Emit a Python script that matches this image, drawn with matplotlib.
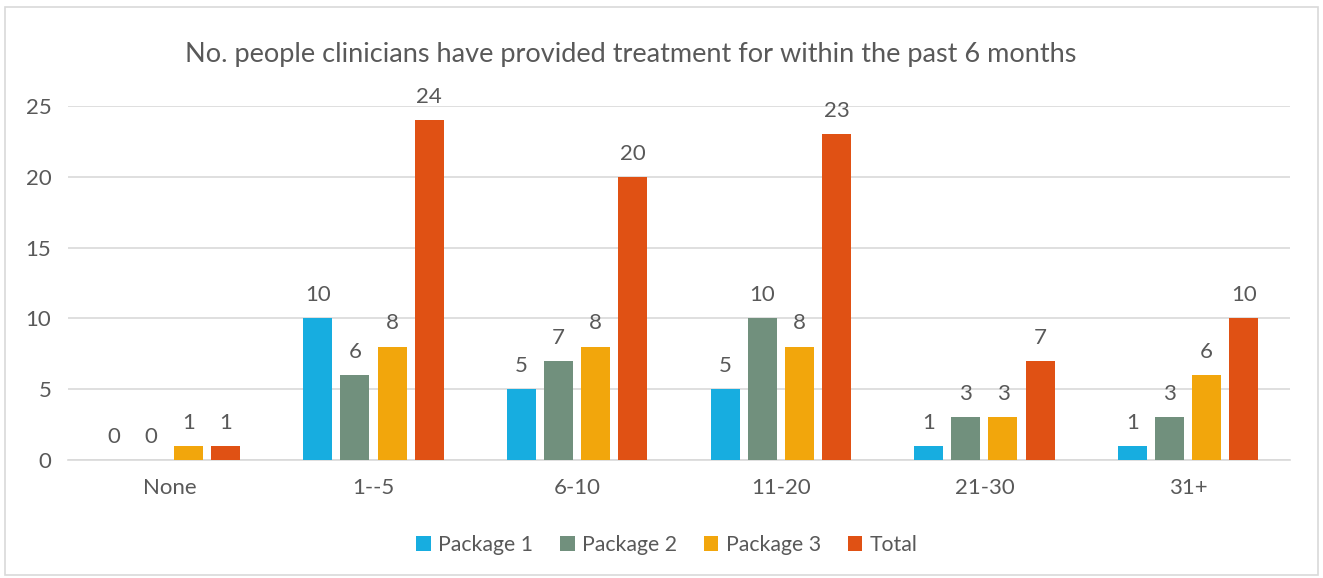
import matplotlib
matplotlib.use("Agg")
import matplotlib.pyplot as plt
from matplotlib.patches import Rectangle
import numpy as np

categories = ["None", "1--5", "6-10", "11-20", "21-30", "31+"]
package_1 = [0, 10, 5, 5, 1, 1]
package_2 = [0, 6, 7, 10, 3, 3]
package_3 = [1, 8, 8, 8, 3, 6]
total = [1, 24, 20, 23, 7, 10]
series_names = ["Package 1", "Package 2", "Package 3", "Total"]
y_ticks = [0, 5, 10, 15, 20, 25]

colors = ["#17ADE0", "#71907D", "#F2A60C", "#E05114"]
text_color = "#595959"
grid_color = "#D9D9D9"

plt.rcParams["font.family"] = ["Lato", "DejaVu Sans"]

fig = plt.figure(figsize=(13.23, 5.78), dpi=100)
ax = fig.add_axes([0.0514, 0.2042, 0.9236, 0.6125])

x = np.arange(len(categories))
width = 0.1425
step = 0.182
series = [package_1, package_2, package_3, total]
offsets = (np.arange(4) - 1.5) * step

for vals, off, col, name in zip(series, offsets, colors, series_names):
    bars = ax.bar(x + off, vals, width, color=col, label=name, zorder=3)
    for b, v in zip(bars, vals):
        ax.annotate(str(v), (b.get_x() + b.get_width() / 2, v),
                    xytext=(0, 9.5), textcoords="offset points",
                    ha="center", va="bottom", fontsize=16, color=text_color)

ax.set_xlim(-0.5, len(categories) - 0.5)
ax.set_ylim(0, 25)
ax.set_yticks(y_ticks)
ax.set_xticks(x)
ax.set_xticklabels(categories)
ax.tick_params(axis="both", length=0, labelsize=16, colors=text_color)
ax.tick_params(axis="y", pad=12)
ax.tick_params(axis="x", pad=13)
ax.grid(axis="y", color=grid_color, linewidth=1.2, zorder=0)
for s in ["top", "right", "left"]:
    ax.spines[s].set_visible(False)
ax.spines["bottom"].set_color(grid_color)
ax.spines["bottom"].set_linewidth(1.2)

fig.text(0.477, 0.905, "No. people clinicians have provided treatment for within the past 6 months",
         ha="center", va="center", fontsize=19.5, color=text_color)

fig.legend(loc="center", bbox_to_anchor=(0.504, 0.057), ncol=4, frameon=False,
           fontsize=15.3, labelcolor=text_color, handlelength=0.7, handleheight=0.7,
           handletextpad=0.35, columnspacing=1.25)

fig.patches.append(Rectangle((0.004, 0.005), 0.992, 0.983, transform=fig.transFigure,
                             fill=False, edgecolor=grid_color, linewidth=1.2))

fig.savefig("out.png", dpi=100, facecolor="white")
